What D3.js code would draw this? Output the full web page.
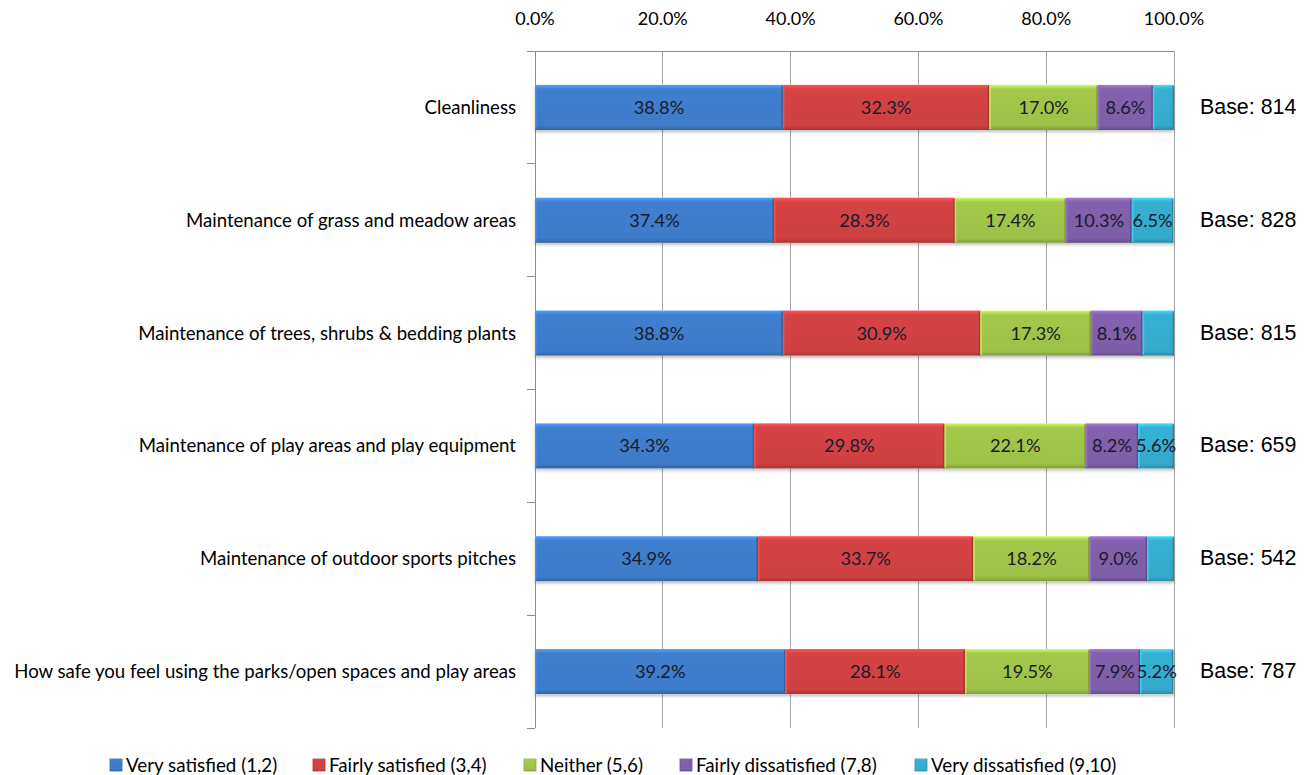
<!DOCTYPE html>
<html>
<head>
<meta charset="utf-8">
<script src="https://cdn.jsdelivr.net/npm/d3@7"></script>
<style>
  html, body { margin: 0; padding: 0; background: #fff; }
  svg { display: block; }
  .lbl { font-family: Lato, "Open Sans", sans-serif; }
  .base { font-family: "Liberation Sans", Arial, sans-serif; }
</style>
</head>
<body>
<svg id="chart" width="1310" height="775"></svg>
<script>
// Survey items (top to bottom)
const categories = [
  "Cleanliness",
  "Maintenance of grass and meadow areas",
  "Maintenance of trees, shrubs & bedding plants",
  "Maintenance of play areas and play equipment",
  "Maintenance of outdoor sports pitches",
  "How safe you feel using the parks/open spaces and play areas"
];

// Response groups
const seriesNames = [
  "Very satisfied (1,2)",
  "Fairly satisfied (3,4)",
  "Neither (5,6)",
  "Fairly dissatisfied (7,8)",
  "Very dissatisfied (9,10)"
];

// Percentages per item, one array per response group
const verySatisfied      = [38.8, 37.4, 38.8, 34.3, 34.9, 39.2];
const fairlySatisfied    = [32.3, 28.3, 30.9, 29.8, 33.7, 28.1];
const neither            = [17.0, 17.4, 17.3, 22.1, 18.2, 19.5];
const fairlyDissatisfied = [8.6, 10.3, 8.1, 8.2, 9.0, 7.9];
const veryDissatisfied   = [3.3, 6.5, 4.9, 5.6, 4.2, 5.2];

// Number of respondents per item
const bases = [814, 828, 815, 659, 542, 787];

const xTicks = [0, 20, 40, 60, 80, 100];

const seriesValues = [verySatisfied, fairlySatisfied, neither, fairlyDissatisfied, veryDissatisfied];
const colors = ["#407fcf", "#d54343", "#a3c84a", "#8261ae", "#36b0d2"];

const svg = d3.select("#chart");
const plot = { left: 535, right: 1174, top: 51, bottom: 728 };

const x = d3.scaleLinear().domain([0, 100]).range([plot.left, plot.right]);
const y = d3.scaleBand().domain(categories).range([plot.top, plot.bottom])
  .paddingInner(0.6).paddingOuter(0.3);

// Gradients giving the bars a bevelled look
const defs = svg.append("defs");
colors.forEach((c, i) => {
  const base = d3.color(c);
  const g = defs.append("linearGradient").attr("id", "grad" + i)
    .attr("x1", 0).attr("y1", 0).attr("x2", 0).attr("y2", 1);
  g.append("stop").attr("offset", "0%").attr("stop-color", base.brighter(0.7));
  g.append("stop").attr("offset", "6%").attr("stop-color", base.brighter(0.25));
  g.append("stop").attr("offset", "10%").attr("stop-color", base);
  g.append("stop").attr("offset", "90%").attr("stop-color", base.darker(0.1));
  g.append("stop").attr("offset", "100%").attr("stop-color", base.darker(0.7));
});

// Soft shadow under the bars
const shadow = defs.append("filter").attr("id", "shadow")
  .attr("x", "-2%").attr("y", "-10%").attr("width", "104%").attr("height", "140%");
shadow.append("feDropShadow").attr("dx", 0).attr("dy", 2).attr("stdDeviation", 1.5)
  .attr("flood-color", "#000").attr("flood-opacity", 0.25);

// Vertical gridlines
svg.append("g").selectAll("line").data(xTicks).join("line")
  .attr("x1", d => x(d)).attr("x2", d => x(d))
  .attr("y1", plot.top).attr("y2", plot.bottom)
  .attr("stroke", "#a6a6a6").attr("stroke-width", 1)
  .attr("shape-rendering", "crispEdges");

// Top axis line and tick labels
svg.append("line")
  .attr("x1", plot.left - 8).attr("x2", plot.right)
  .attr("y1", plot.top).attr("y2", plot.top)
  .attr("stroke", "#8c8c8c").attr("shape-rendering", "crispEdges");

svg.append("g").selectAll("text").data(xTicks).join("text")
  .attr("class", "lbl")
  .attr("x", d => x(d)).attr("y", 25)
  .attr("text-anchor", "middle")
  .attr("font-size", 18)
  .attr("fill", "#000")
  .text(d => d.toFixed(1) + "%");

// Left category axis with tick marks between items
const step = y.step();
const boundaries = d3.range(categories.length + 1).map(i => plot.top + i * step);
svg.append("line")
  .attr("x1", plot.left).attr("x2", plot.left)
  .attr("y1", plot.top).attr("y2", plot.bottom)
  .attr("stroke", "#8c8c8c").attr("shape-rendering", "crispEdges");
svg.append("g").selectAll("line").data(boundaries).join("line")
  .attr("x1", plot.left - 8).attr("x2", plot.left)
  .attr("y1", d => d).attr("y2", d => d)
  .attr("stroke", "#8c8c8c").attr("shape-rendering", "crispEdges");

// Category labels
svg.append("g").selectAll("text").data(categories).join("text")
  .attr("class", "lbl")
  .attr("x", plot.left - 19)
  .attr("y", d => y(d) + y.bandwidth() / 2)
  .attr("dy", "0.35em")
  .attr("text-anchor", "end")
  .attr("font-size", 18.6)
  .attr("fill", "#000")
  .text(d => d);

// Stack the series
const rows = categories.map((c, i) => {
  const r = { category: c };
  seriesNames.forEach((s, j) => { r[s] = seriesValues[j][i]; });
  return r;
});
const stacked = d3.stack().keys(seriesNames)(rows);

// Shadow strip behind each whole bar
svg.append("g").selectAll("rect").data(categories).join("rect")
  .attr("x", x(0))
  .attr("y", d => y(d))
  .attr("width", x(100) - x(0))
  .attr("height", y.bandwidth())
  .attr("fill", "#fff")
  .attr("filter", "url(#shadow)");

const layers = svg.append("g").selectAll("g").data(stacked).join("g")
  .attr("fill", (d, i) => `url(#grad${i})`);

layers.selectAll("rect").data(d => d).join("rect")
  .attr("x", d => x(d[0]))
  .attr("y", d => y(d.data.category))
  .attr("width", d => x(d[1]) - x(d[0]))
  .attr("height", y.bandwidth());

// Thin bevel edges on each segment
layers.each(function(layer, i) {
  const dark = d3.color(colors[i]).darker(0.7);
  const light = d3.color(colors[i]).brighter(0.4);
  d3.select(this).selectAll("line.edge").data(layer).join("line")
    .attr("class", "edge")
    .attr("x1", d => x(d[1]) - 0.75).attr("x2", d => x(d[1]) - 0.75)
    .attr("y1", d => y(d.data.category) + 1)
    .attr("y2", d => y(d.data.category) + y.bandwidth())
    .attr("stroke", dark).attr("stroke-width", 1.5);
  d3.select(this).selectAll("line.ledge").data(layer).join("line")
    .attr("class", "ledge")
    .attr("x1", d => x(d[0]) + 0.75).attr("x2", d => x(d[0]) + 0.75)
    .attr("y1", d => y(d.data.category) + 1)
    .attr("y2", d => y(d.data.category) + y.bandwidth() - 1)
    .attr("stroke", light).attr("stroke-width", 1.5);
});

// Value labels, shown where the segment is wide enough
layers.each(function(layer) {
  d3.select(this).selectAll("text").data(layer.filter(d => d[1] - d[0] >= 5)).join("text")
    .attr("class", "lbl")
    .attr("x", d => (x(d[0]) + x(d[1])) / 2)
    .attr("y", d => y(d.data.category) + y.bandwidth() / 2)
    .attr("dy", "0.36em")
    .attr("text-anchor", "middle")
    .attr("font-size", 18.2)
    .attr("fill", "#1a1a2a")
    .text(d => (d[1] - d[0]).toFixed(1) + "%");
});

// Respondent bases on the right
svg.append("g").selectAll("text").data(categories).join("text")
  .attr("class", "base")
  .attr("x", 1200)
  .attr("y", (d, i) => y(d) + y.bandwidth() / 2 - 1)
  .attr("dy", "0.35em")
  .attr("font-size", 21.4)
  .attr("fill", "#000")
  .text((d, i) => "Base: " + bases[i]);

// Legend
const legendX = [110, 313, 524, 680, 915];
const legend = svg.append("g").selectAll("g").data(seriesNames).join("g")
  .attr("transform", (d, i) => `translate(${legendX[i]},765)`);
legend.append("rect")
  .attr("x", 0).attr("y", -6).attr("width", 12).attr("height", 12)
  .attr("fill", (d, i) => `url(#grad${i})`)
  .attr("stroke", (d, i) => d3.color(colors[i]).darker(0.5)).attr("stroke-width", 0.8);
legend.append("text")
  .attr("class", "lbl")
  .attr("x", 16).attr("y", 0).attr("dy", "0.35em")
  .attr("font-size", 18.8)
  .attr("fill", "#000")
  .text(d => d);
</script>
</body>
</html>
